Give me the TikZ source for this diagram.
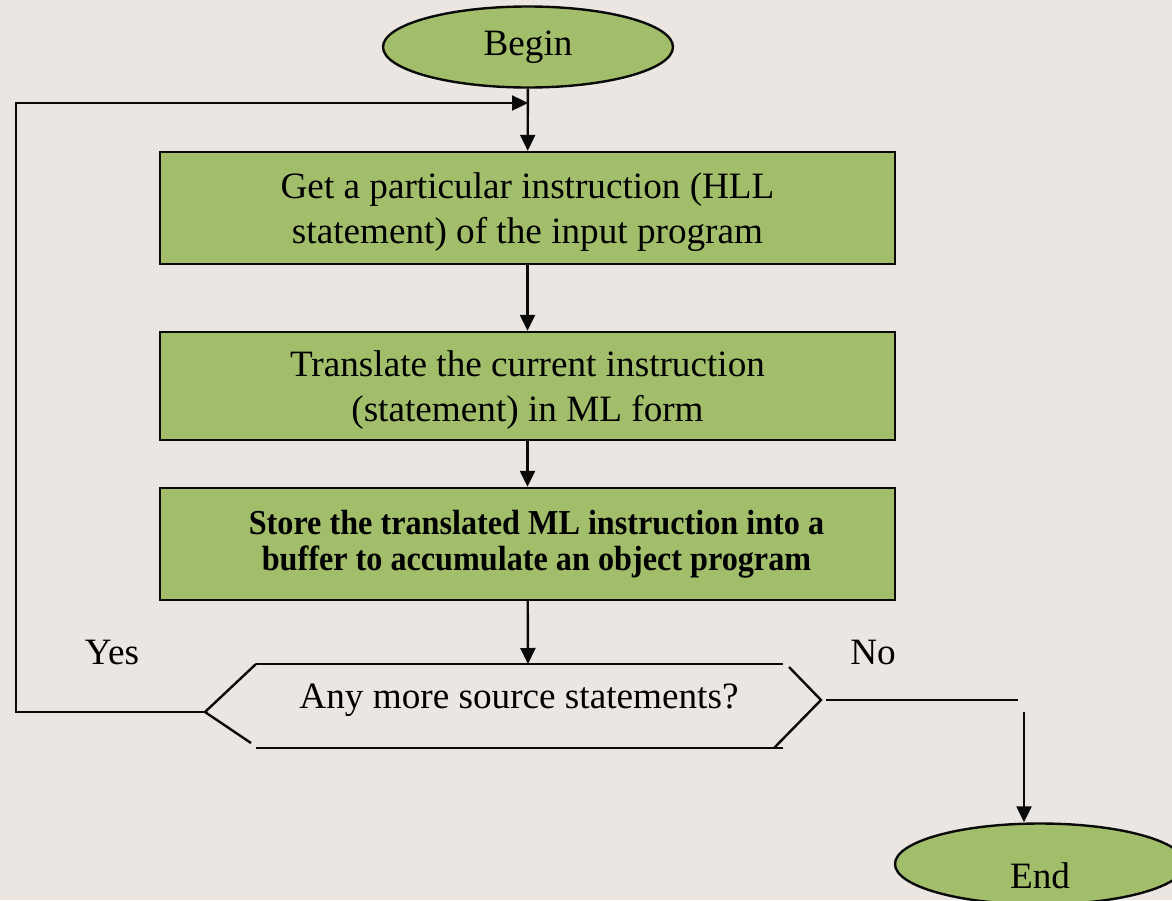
\documentclass[tikz,border=0pt]{standalone}
\usepackage{fontspec}
\setmainfont{Liberation Serif}
\newfontfamily\narrowserif[FakeStretch=0.92]{Liberation Serif}
\usepackage{tikz}
\usetikzlibrary{positioning, shapes.geometric, arrows.meta, calc}
\usepackage{xcolor}
\definecolor{fcbg}{HTML}{EBE6E2}
\definecolor{fcgreen}{HTML}{A2BE6B}
\definecolor{fcline}{HTML}{0A0A0A}

\begin{document}
\begin{tikzpicture}[x=0.5pt, y=-0.5pt, line width=1.2pt, draw=fcline,
    font=\fontsize{18.6}{22.5}\selectfont,
    terminal/.style={ellipse, draw, fill=fcgreen, minimum width=145pt, minimum height=40.5pt, inner sep=0pt},
    process/.style={rectangle, draw, fill=fcgreen, minimum width=367.5pt, align=center, inner sep=0pt},
    arr/.style={-{Triangle[length=8pt, width=7.5pt]}}]
        \useasboundingbox (0,0) rectangle (1172,900);
        \fill[fcbg] (0,0) rectangle (1172,900);
        \clip (0,0) rectangle (1172,900);
        % terminals and steps
        \node[terminal] (begin) at (528,47) {Begin};
        \node[process, minimum height=56pt, text depth=-4.5pt] (fetch) at (527.5,208) {Get a particular instruction (HLL\\statement) of the input program};
        \node[process, minimum height=54pt, text depth=0pt] (translate) at (527.5,386) {Translate the current instruction\\(statement) in ML form};
        \node[process, minimum height=56pt, label={[xshift=4.5pt, align=center, font=\narrowserif\bfseries\fontsize{17.5}{18}\selectfont]center:Store the translated ML instruction into a\\buffer to accumulate an object program}] (store) at (527.5,544) {};
        \node[terminal, label={[yshift=-6pt]center:End}] (end) at (1040,864) {};
        % decision, drawn as open strokes
        \node (check) at (519,700) {Any more source statements?};
        \coordinate (dl) at (205,712);
        \coordinate (dr) at (821,700);
        \draw (256,664) -- (783,664);
        \draw (256,748) -- (783,748);
        \draw (256,664) -- (dl) -- (251,743);
        \draw (789,667) -- (dr) -- (774,748);
        \node (yes) at (112,652) {Yes};
        \node (no) at (873,652) {No};
        % flow
        \coordinate (merge) at (528,103);
        \coordinate (drop) at (1024,712);
        \draw[arr] (begin) -- (fetch);
        \draw[arr] (fetch) -- (translate);
        \draw[arr] (translate) -- (store);
        \draw[arr] (store) -- (528,664);
        \draw[arr] (dl) -- (16,712) -- (16,103) -- (merge);
        \draw ($(dr)+(5,0)$) -- (1018,700);
        \draw[arr] (drop) -- (drop |- end.north);
      \end{tikzpicture}
\end{document}
